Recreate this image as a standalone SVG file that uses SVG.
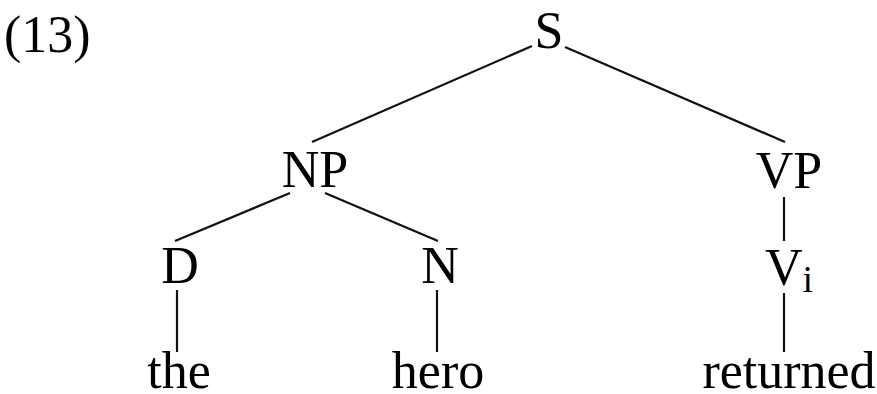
<svg xmlns="http://www.w3.org/2000/svg" width="877" height="394" viewBox="0 0 877 394">
<style>
text{font-family:"Liberation Serif","Times New Roman",serif;font-size:52px;fill:#000}
.c{text-anchor:middle}
.sub{font-size:38px}
line{stroke:#111;stroke-width:2.2;stroke-linecap:butt}
</style>
<rect width="877" height="394" fill="#fff"/>
<text id="label" x="4" y="52">(13)</text>
<g id="connectors">
<line x1="532" y1="46" x2="312" y2="142"/>
<line x1="565" y1="47" x2="785" y2="142"/>
<line x1="290" y1="193" x2="175" y2="241"/>
<line x1="325" y1="193" x2="438" y2="241"/>
<line x1="784" y1="197" x2="784" y2="241"/>
<line x1="177" y1="290" x2="177" y2="352"/>
<line x1="437" y1="290" x2="437" y2="352"/>
<line x1="784" y1="293" x2="784" y2="352"/>
</g>
<g id="S"><text class="c" x="549" y="48">S</text></g>
<g id="NP"><text class="c" x="315" y="187">NP</text></g>
<g id="VP"><text class="c" x="789" y="188">VP</text></g>
<g id="D"><text class="c" x="180" y="283">D</text></g>
<g id="N"><text class="c" x="440" y="283">N</text></g>
<g id="Vi"><text x="765" y="285">V<tspan class="sub" dy="7">i</tspan></text></g>
<g id="the"><text class="c" x="179" y="388">the</text></g>
<g id="hero"><text class="c" x="438" y="388">hero</text></g>
<g id="returned"><text class="c" x="789" y="388">returned</text></g>
</svg>
